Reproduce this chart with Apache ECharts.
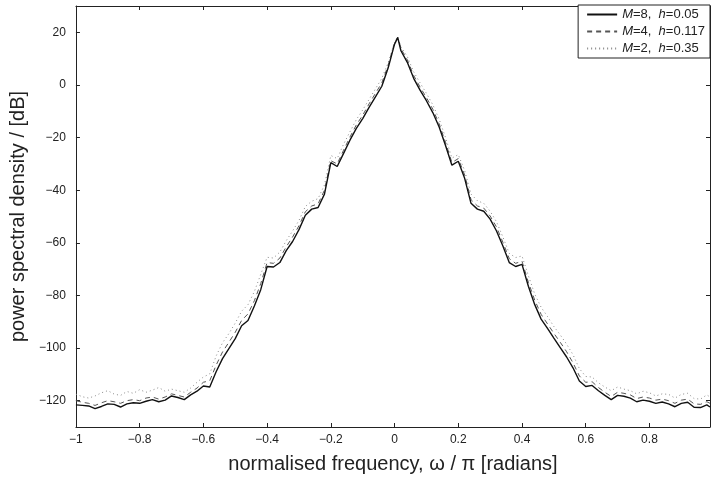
<!DOCTYPE html>
<html>
<head>
<meta charset="utf-8">
<script src="https://cdn.jsdelivr.net/npm/echarts@6/dist/echarts.min.js"></script>
<style>
html,body{margin:0;padding:0;background:#fff;}
#chart{width:712px;height:479px;}
</style>
</head>
<body>
<div id="chart"></div>
<script>
// normalised frequency (omega/pi)
const freq = [
  -1.00,-0.98,-0.96,-0.94,-0.92,-0.90,-0.88,-0.86,-0.84,-0.82,
  -0.80,-0.78,-0.76,-0.74,-0.72,-0.70,-0.68,-0.66,-0.64,-0.62,
  -0.60,-0.58,-0.56,-0.54,-0.52,-0.50,-0.48,-0.46,-0.44,-0.42,
  -0.40,-0.38,-0.36,-0.34,-0.32,-0.30,-0.28,-0.26,-0.24,-0.22,
  -0.20,-0.18,-0.16,-0.14,-0.12,-0.10,-0.08,-0.06,-0.04,-0.02,
   0.00, 0.01, 0.02, 0.04, 0.06, 0.08, 0.10, 0.12, 0.14, 0.16,
   0.18, 0.20, 0.22, 0.24, 0.26, 0.28, 0.30, 0.32, 0.34, 0.36,
   0.38, 0.40, 0.42, 0.44, 0.46, 0.48, 0.50, 0.52, 0.54, 0.56,
   0.58, 0.60, 0.62, 0.64, 0.66, 0.68, 0.70, 0.72, 0.74, 0.76,
   0.78, 0.80, 0.82, 0.84, 0.86, 0.88, 0.90, 0.92, 0.94, 0.96,
   0.98, 0.99
];
// M=8, h=0.05 (solid)
const psdM8 = [
  -121.6,-121.8,-122.0,-123.0,-122.2,-121.2,-121.4,-122.4,-121.2,-120.8,
  -121.0,-120.2,-119.6,-120.4,-119.8,-118.2,-118.8,-119.6,-117.8,-116.4,
  -114.4,-114.8,-109.0,-104.0,-100.2,-96.4,-91.5,-89.5,-84.0,-77.8,
  -69.0,-69.2,-67.5,-63.0,-59.5,-55.0,-49.5,-47.2,-46.6,-41.5,
  -29.5,-31.0,-26.0,-21.0,-16.5,-12.8,-8.5,-4.5,-0.5,6.5,
  15.5,18.0,13.0,8.6,2.5,-2.0,-6.0,-10.5,-16.0,-23.0,
  -30.5,-29.0,-35.5,-45.0,-47.2,-48.0,-51.0,-55.5,-61.2,-67.5,
  -69.0,-68.2,-76.5,-83.5,-89.0,-92.5,-96.2,-99.8,-103.4,-107.5,
  -112.5,-114.6,-114.2,-116.2,-118.0,-119.6,-118.0,-118.3,-119.0,-120.4,
  -119.8,-120.2,-121.0,-120.5,-121.2,-122.3,-121.0,-120.6,-122.5,-122.6,
  -121.6,-122.4
];
// M=4, h=0.117 (dashed)
const psdM4 = [
  -120.0,-120.6,-121.0,-121.8,-120.8,-120.0,-120.4,-121.0,-120.0,-119.6,
  -120.0,-119.0,-118.6,-119.4,-118.6,-117.4,-118.0,-118.6,-116.8,-115.2,
  -113.0,-112.4,-106.5,-101.5,-97.8,-94.0,-89.5,-87.0,-82.0,-75.5,
  -67.5,-67.8,-65.8,-61.5,-57.8,-53.5,-48.2,-46.0,-45.2,-40.0,
  -28.8,-30.0,-24.8,-19.8,-15.2,-11.5,-7.2,-3.2,0.8,7.5,
  16.0,18.2,13.8,9.6,3.6,-0.8,-4.8,-9.2,-14.8,-21.8,
  -29.5,-28.0,-34.2,-43.6,-46.0,-46.8,-49.8,-54.0,-59.8,-66.0,
  -67.8,-67.0,-75.0,-81.8,-87.2,-90.8,-94.4,-97.8,-101.4,-105.6,
  -110.6,-113.0,-112.8,-115.0,-116.8,-118.4,-116.8,-117.2,-117.8,-119.2,
  -118.6,-119.0,-119.8,-119.4,-120.0,-121.0,-119.8,-119.4,-121.2,-121.4,
  -120.4,-121.0
];
// M=2, h=0.35 (dotted)
const psdM2 = [
  -117.5,-118.5,-119.0,-118.2,-117.0,-116.2,-117.5,-118.0,-116.5,-117.2,
  -115.8,-116.8,-116.0,-115.0,-116.4,-115.6,-116.2,-116.8,-115.2,-113.0,
  -111.0,-109.8,-103.0,-98.0,-94.5,-90.5,-86.0,-83.5,-78.5,-72.0,
  -65.5,-65.8,-63.5,-59.2,-55.5,-51.5,-46.2,-44.2,-43.2,-38.0,
  -26.8,-28.0,-22.5,-17.8,-13.2,-9.5,-5.5,-1.5,2.5,8.5,
  16.2,18.0,14.5,10.8,5.0,0.8,-3.2,-7.5,-13.0,-20.0,
  -27.8,-26.5,-32.5,-41.5,-44.0,-45.0,-48.0,-52.0,-57.8,-64.0,
  -65.6,-65.0,-72.5,-79.5,-84.5,-88.0,-91.8,-95.0,-98.5,-102.5,
  -107.8,-110.8,-111.0,-113.2,-114.8,-116.2,-114.8,-115.6,-116.2,-117.4,
  -116.4,-117.0,-118.2,-117.4,-117.6,-119.0,-117.6,-117.2,-119.2,-119.4,
  -117.8,-118.6
];
const yTicks = [-120,-100,-80,-60,-40,-20,0,20];
const xTicks = [-1,-0.8,-0.6,-0.4,-0.2,0,0.2,0.4,0.6,0.8];
const seriesNames = ['M=8, h=0.05','M=4, h=0.117','M=2, h=0.35'];

function pairs(ys){ return freq.map((x,i)=>[x, ys[i]]); }
function fmt(v){ return String(v).replace('-', '\u2212'); }

const font = 'Liberation Sans, Arial, Helvetica, sans-serif';
function axisParts(ticks){
  return {
    axisLine:{show:true, onZero:false, lineStyle:{color:'#222', width:1}},
    axisTick:{show:true, inside:true, length:4, customValues:ticks, lineStyle:{color:'#222'}},
    splitLine:{show:false}
  };
}

const chart = echarts.init(document.getElementById('chart'), null, {renderer:'canvas'});
chart.setOption({
  backgroundColor:'#fff',
  animation:false,
  grid:{left:75, right:2, top:6, bottom:50},
  legend:{
    orient:'vertical', right:2, top:5,
    data: seriesNames,
    backgroundColor:'#fff', borderColor:'#222', borderWidth:1,
    padding:[3,5,3,8], itemWidth:30, itemHeight:10, itemGap:4,
    itemStyle:{opacity:0, color:'transparent', borderWidth:0},
    textStyle:{fontFamily:font, fontSize:13, color:'#222',
      rich:{i:{fontStyle:'italic', fontFamily:font, fontSize:13, color:'#222'}}},
    formatter:function(name){
      const m = name.match(/M=(\S+), h=(\S+)/);
      return '{i|M}=' + m[1] + ',  {i|h}=' + m[2];
    }
  },
  xAxis:[
    Object.assign({
      type:'value', min:-1, max:0.99, position:'bottom',
      name:'normalised frequency, \u03c9 / \u03c0 [radians]',
      nameLocation:'middle', nameGap:27,
      nameTextStyle:{fontFamily:font, fontSize:20, color:'#222'},
      axisLabel:{customValues:xTicks, formatter:fmt, fontFamily:font, fontSize:12, color:'#222', margin:7}
    }, axisParts(xTicks)),
    Object.assign({
      type:'value', min:-1, max:0.99, position:'top',
      axisLabel:{show:false}
    }, axisParts(xTicks))
  ],
  yAxis:[
    Object.assign({
      type:'value', min:-130, max:30, position:'left',
      name:'power spectral density / [dB]',
      nameLocation:'middle', nameGap:43, nameRotate:90,
      nameTextStyle:{fontFamily:font, fontSize:20, color:'#222'},
      axisLabel:{customValues:yTicks, formatter:fmt, fontFamily:font, fontSize:12, color:'#222', margin:10}
    }, axisParts(yTicks)),
    Object.assign({
      type:'value', min:-130, max:30, position:'right',
      axisLabel:{show:false}
    }, axisParts(yTicks))
  ],
  series:[
    {name:seriesNames[2], type:'line', data:pairs(psdM2), showSymbol:false, symbol:'none',
      lineStyle:{color:'#888', width:1, type:[1,3]}, itemStyle:{color:'rgba(0,0,0,0)', borderWidth:0}},
    {name:seriesNames[1], type:'line', data:pairs(psdM4), showSymbol:false, symbol:'none',
      lineStyle:{color:'#555', width:1, type:[5,4]}, itemStyle:{color:'rgba(0,0,0,0)', borderWidth:0}},
    {name:seriesNames[0], type:'line', data:pairs(psdM8), showSymbol:false, symbol:'none',
      lineStyle:{color:'#111', width:1.4, type:'solid'}, itemStyle:{color:'rgba(0,0,0,0)', borderWidth:0}}
  ]
});
</script>
</body>
</html>
